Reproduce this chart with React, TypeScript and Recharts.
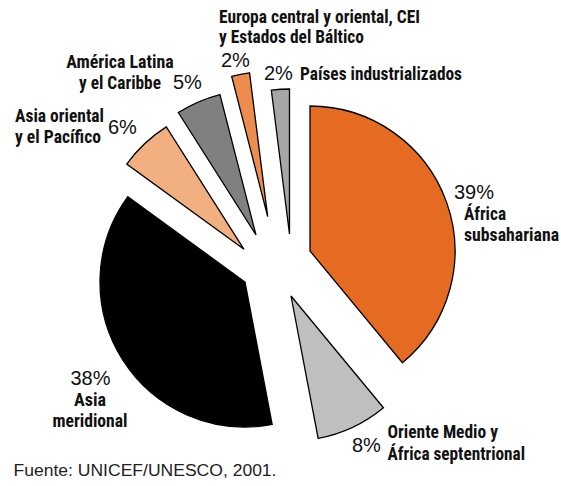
import React from 'react';
import { PieChart, Pie, Cell } from 'recharts';

// ---------- data ----------
const categories: string[] = [
  'África subsahariana',
  'Oriente Medio y África septentrional',
  'Asia meridional',
  'Asia oriental y el Pacífico',
  'América Latina y el Caribe',
  'Europa central y oriental, CEI y Estados del Báltico',
  'Países industrializados',
];
const shares: number[] = [39, 8, 38, 6, 5, 2, 2];
const nameLines: string[][] = [
  ['África', 'subsahariana'],
  ['Oriente Medio y', 'África septentrional'],
  ['Asia', 'meridional'],
  ['Asia oriental', 'y el Pacífico'],
  ['América Latina', 'y el Caribbe'],
  ['Europa central y oriental, CEI', 'y Estados del Báltico'],
  ['Países industrializados'],
];
const percentLabels: string[] = shares.map((v) => `${v}%`);
const sourceNote = 'Fuente: UNICEF/UNESCO, 2001.';

// ---------- styles / layout ----------
const sliceColors = ['#E46B21', '#BFBFBF', '#000000', '#F2AF80', '#808080', '#EC8D4F', '#A6A6A6'];
const W = 561;
const H = 486;
const CX = 275.6;
const CY = 263;
const R = 145;
// per-slice displacement of each exploded piece
const explode: [number, number][] = [
  [34.4, -12],
  [15.4, 33],
  [-30.6, 19],
  [-31.6, -13.7],
  [-19.6, -28],
  [-7.9, -46.3],
  [13.9, -29],
];

type Anchor = 'start' | 'middle' | 'end';
interface LabelLayout {
  pct: { x: number; y: number; anchor: Anchor };
  names: { x: number; ys: number[]; anchor: Anchor; widths: number[] };
}
const labelLayout: LabelLayout[] = [
  { pct: { x: 454, y: 199, anchor: 'start' }, names: { x: 464, ys: [220, 241], anchor: 'start', widths: [42, 95] } },
  { pct: { x: 352, y: 452, anchor: 'start' }, names: { x: 387.5, ys: [438, 460], anchor: 'start', widths: [110.5, 137.5] } },
  { pct: { x: 90.5, y: 385, anchor: 'middle' }, names: { x: 90, ys: [406, 427], anchor: 'middle', widths: [32, 75] } },
  { pct: { x: 108, y: 134, anchor: 'start' }, names: { x: 15, ys: [122, 143], anchor: 'start', widths: [89, 86] } },
  { pct: { x: 173, y: 89, anchor: 'start' }, names: { x: 120, ys: [68, 89], anchor: 'middle', widths: [107.5, 82] } },
  { pct: { x: 221, y: 67, anchor: 'start' }, names: { x: 219, ys: [23, 43], anchor: 'start', widths: [201, 145] } },
  { pct: { x: 264, y: 80, anchor: 'start' }, names: { x: 300, ys: [80], anchor: 'start', widths: [162] } },
];

const condensedBold = "'Liberation Sans Narrow', 'Roboto Condensed', 'DejaVu Sans Condensed', 'Liberation Sans', sans-serif";
const plainFont = "'Liberation Sans', Arial, Helvetica, sans-serif";

const data = categories.map((name, i) => ({ name, value: shares[i] }));

function SliceLabel({ k }: { k: number }) {
  const L = labelLayout[k];
  return (
    <g>
      <text
        x={L.pct.x}
        y={L.pct.y}
        textAnchor={L.pct.anchor}
        fontFamily={plainFont}
        fontSize={20}
        fill="#111"
      >
        {percentLabels[k]}
      </text>
      {nameLines[k].map((line, j) => (
        <text
          key={j}
          x={L.names.x}
          y={L.names.ys[j]}
          textAnchor={L.names.anchor}
          fontFamily={condensedBold}
          fontWeight={700}
          fontSize={18}
          fill="#111"
          textLength={L.names.widths[j]}
          lengthAdjust="spacingAndGlyphs"
        >
          {line}
        </text>
      ))}
    </g>
  );
}

export default function App() {
  return (
    <div style={{ position: 'absolute', left: 0, top: 0, width: W, height: H, background: '#fff' }}>
      <PieChart width={W} height={H} margin={{ top: 0, right: 0, bottom: 0, left: 0 }}>
        {categories.map((_, k) => (
          <Pie
            key={k}
            data={data}
            dataKey="value"
            nameKey="name"
            cx={CX + explode[k][0]}
            cy={CY + explode[k][1]}
            outerRadius={R}
            innerRadius={0}
            startAngle={90}
            endAngle={-270}
            isAnimationActive={false}
            labelLine={false}
            label={(p: any) => (p.index === k ? <SliceLabel k={k} /> : null)}
          >
            {data.map((_, i) => (
              <Cell
                key={i}
                fill={i === k ? sliceColors[i] : 'none'}
                stroke={i === k ? '#000' : 'none'}
                strokeWidth={1.3}
              />
            ))}
          </Pie>
        ))}
      </PieChart>
      <svg
        width={W}
        height={H}
        style={{ position: 'absolute', left: 0, top: 0, pointerEvents: 'none' }}
      >
        <text x={13.5} y={476} fontFamily={plainFont} fontSize={16} fill="#222" textLength={263} lengthAdjust="spacingAndGlyphs">
          {sourceNote}
        </text>
      </svg>
    </div>
  );
}
